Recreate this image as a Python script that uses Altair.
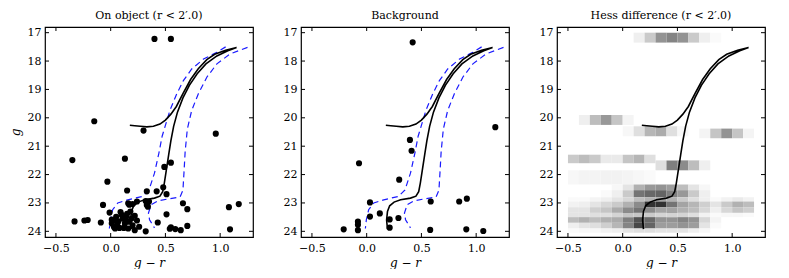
import altair as alt
import pandas as pd

# ---------------- data ----------------
x_ticks = [-0.5, 0.0, 0.5, 1.0]
y_ticks = [17, 18, 19, 20, 21, 22, 23, 24]

obj_gr = [0.40, 0.55, -0.15, 0.30, 0.96, -0.35, 0.13, 0.55, 0.49, -0.03,
          0.15, 0.33, 0.42, 0.48, 0.51, -0.07, 0.16, 0.20, 0.32, 0.33,
          0.34, 0.66, 0.70, 1.08, 1.17, 0.51, 0.43, 0.70, 0.54, 0.59,
          0.64, 1.09, 0.32, 0.26, 0.22, -0.33, -0.24, -0.21, -0.09, 0.55,
          -0.01, 0.01, 0.03, 0.01, 0.05, 0.07, 0.09, 0.11, 0.13, 0.14,
          0.15, 0.17, 0.19, 0.20, 0.22, 0.04, 0.08, 0.12, 0.16, 0.10,
          0.06, 0.18, 0.03, 0.14, 0.24, 0.17, 0.24, 0.35]
obj_g = [17.22, 17.22, 20.12, 20.45, 20.56, 21.49, 21.44, 21.58, 21.73, 22.25,
         22.56, 22.59, 22.59, 22.45, 22.69, 23.07, 23.01, 23.04, 22.93, 23.07,
         23.13, 23.01, 23.22, 23.15, 23.04, 23.40, 23.69, 23.81, 23.91, 23.92,
         23.96, 23.93, 24.00, 23.84, 23.96, 23.65, 23.62, 23.60, 23.69, 23.86,
         23.34, 23.59, 23.85, 23.72, 23.49, 23.65, 23.32, 23.55, 23.72, 23.49,
         23.38, 23.66, 23.55, 23.79, 23.45, 23.90, 23.88, 23.88, 23.90, 23.42,
         23.78, 23.30, 23.62, 23.62, 23.62, 23.06, 22.95, 22.95]

bg_gr = [0.42, 1.175, 0.395, 0.41, -0.07, 0.297, 0.03, 0.585, 0.845, 0.915,
         0.12, 0.03, 0.21, 0.29, -0.08, -0.08, -0.08, -0.21, 0.21, 0.58,
         0.91, 1.065]
bg_g = [17.34, 20.33, 20.78, 21.16, 21.60, 22.18, 22.98, 22.95, 22.95, 22.85,
        23.37, 23.48, 23.58, 23.53, 23.66, 23.77, 23.96, 23.93, 23.87, 23.95,
        23.93, 23.99]

iso_gr = [0.19, 0.182, 0.19, 0.21, 0.25, 0.31, 0.40, 0.45, 0.475, 0.49,
          0.51, 0.53, 0.55, 0.575, 0.61, 0.66, 0.72, 0.79, 0.87, 0.97,
          1.07, 1.15, 1.05, 0.95, 0.878, 0.80, 0.73, 0.66, 0.60, 0.55,
          0.50, 0.45, 0.39, 0.33, 0.27, 0.22, 0.175]
iso_g = [23.92, 23.60, 23.30, 23.10, 22.97, 22.89, 22.83, 22.76, 22.60, 22.30,
         21.80, 21.30, 20.80, 20.30, 19.80, 19.30, 18.85, 18.45, 18.10, 17.82,
         17.64, 17.52, 17.62, 17.76, 17.95, 18.27, 18.65, 19.15, 19.60, 19.87,
         20.08, 20.22, 20.30, 20.32, 20.30, 20.28, 20.26]

left_gr = [1.05, 0.97, 0.848, 0.74, 0.664, 0.603, 0.541, 0.495, 0.47, 0.44,
           0.40, 0.35, 0.29, 0.156, 0.065, 0.018, -0.003, -0.012]
left_g = [17.50, 17.69, 17.93, 18.28, 18.69, 19.16, 19.74, 20.33, 20.65, 21.25,
          21.95, 22.54, 22.77, 22.89, 23.00, 23.24, 23.59, 23.90]

right_gr = [1.25, 1.09, 0.97, 0.878, 0.80, 0.74, 0.70, 0.68, 0.67, 0.66,
            0.634, 0.526, 0.435, 0.37, 0.345, 0.355, 0.40]
right_g = [17.52, 17.75, 18.10, 18.57, 19.16, 19.74, 20.40, 21.20, 21.90, 22.55,
           22.79, 22.86, 22.92, 23.06, 23.36, 23.59, 23.88]

hess_x_edges = [-0.5, -0.4, -0.3, -0.2, -0.1, 0.0, 0.1, 0.2, 0.3, 0.4,
                0.5, 0.6, 0.7, 0.8, 0.9, 1.0, 1.1, 1.2]
hess_row_lo = [17.0, 19.9, 20.3, 20.38, 21.3, 21.5, 21.85, 22.35, 22.55, 22.8,
               22.95, 23.15, 23.35, 23.5, 23.7, 23.9]
hess_row_hi = [17.35, 20.25, 20.65, 20.72, 21.6, 21.85, 22.35, 22.55, 22.8, 22.95,
               23.15, 23.35, 23.5, 23.7, 23.9, 24.05]
hess_vals = [
    [0, 0, 0, 0, 0, 0, 0.06, 0.2, 0.42, 0.48, 0.42, 0.2, 0.06, 0.02, 0, 0, 0],
    [0, 0.06, 0.25, 0.4, 0.22, 0.04, 0, 0, 0, 0, 0, 0, 0, 0, 0, 0, 0],
    [0, 0, 0, 0, 0, 0.03, 0.12, 0.28, 0.32, 0.12, 0.03, 0, 0, 0, 0, 0, 0],
    [0, 0, 0, 0, 0, 0, 0, 0, 0, 0, 0, 0, 0.04, 0.22, 0.42, 0.22, 0.04],
    [0.2, 0.25, 0.2, 0.08, 0.08, 0.22, 0.28, 0.12, 0, 0, 0, 0, 0, 0, 0, 0, 0],
    [0, 0, 0, 0, 0, 0, 0, 0, 0.12, 0.5, 0.45, 0.25, 0.06, 0, 0, 0, 0],
    [0.03, 0.04, 0.04, 0.05, 0.05, 0.04, 0.03, 0.02, 0, 0, 0, 0, 0, 0, 0, 0, 0],
    [0, 0, 0, 0, 0.03, 0.1, 0.3, 0.4, 0.42, 0.38, 0.25, 0.1, 0.03, 0, 0, 0, 0],
    [0, 0, 0, 0.02, 0.06, 0.2, 0.55, 0.6, 0.62, 0.5, 0.4, 0.2, 0.06, 0, 0, 0, 0],
    [0.02, 0.02, 0.04, 0.06, 0.1, 0.15, 0.25, 0.3, 0.35, 0.3, 0.2, 0.12, 0.06, 0.02, 0.05, 0.08, 0.05],
    [0.05, 0.06, 0.1, 0.15, 0.2, 0.3, 0.45, 0.85, 0.85, 0.55, 0.35, 0.28, 0.18, 0.1, 0.2, 0.3, 0.25],
    [0.1, 0.1, 0.18, 0.22, 0.32, 0.45, 0.55, 0.45, 0.35, 0.35, 0.3, 0.25, 0.15, 0.06, 0.15, 0.22, 0.18],
    [0.1, 0.1, 0.12, 0.12, 0.16, 0.22, 0.22, 0.2, 0.16, 0.16, 0.16, 0.12, 0.05, 0.02, 0.03, 0.03, 0.02],
    [0.25, 0.3, 0.25, 0.3, 0.32, 0.5, 0.7, 0.6, 0.42, 0.42, 0.48, 0.42, 0.15, 0.04, 0, 0, 0],
    [0.06, 0.1, 0.12, 0.18, 0.28, 0.48, 0.75, 0.62, 0.38, 0.38, 0.42, 0.38, 0.1, 0.02, 0, 0, 0],
    [0.02, 0.03, 0.03, 0.05, 0.06, 0.1, 0.12, 0.12, 0.1, 0.1, 0.1, 0.06, 0.03, 0, 0, 0, 0],
]

titles = ["On object (r < 2\u2032.0)", "Background", "Hess difference (r < 2\u2032.0)"]

# ---------------- tables ----------------
iso_df = pd.DataFrame({"gr": iso_gr, "g": iso_g, "o": list(range(len(iso_gr)))})
dash_df = pd.concat([
    pd.DataFrame({"gr": left_gr, "g": left_g, "b": "left", "o": list(range(len(left_gr)))}),
    pd.DataFrame({"gr": right_gr, "g": right_g, "b": "right", "o": list(range(len(right_gr)))}),
])
obj_df = pd.DataFrame({"gr": obj_gr, "g": obj_g})
bg_df = pd.DataFrame({"gr": bg_gr, "g": bg_g})
cells = []
for lo, hi, vals in zip(hess_row_lo, hess_row_hi, hess_vals):
    for j, v in enumerate(vals):
        if v > 0:
            cells.append({"x1": hess_x_edges[j], "x2": hess_x_edges[j + 1],
                          "y1": lo, "y2": hi, "v": v})
hess_df = pd.DataFrame(cells)
xt_df = pd.DataFrame({"t": x_ticks})
yt_df = pd.DataFrame({"t": y_ticks})

W, H = 208, 210
FONT = "DejaVu Serif"
xs = alt.Scale(domain=[-0.6, 1.3], nice=False, zero=False)
ys = alt.Scale(domain=[16.8, 24.2], nice=False, zero=False, reverse=True)


def xax():
    return alt.Axis(values=x_ticks, format=".1f", title="g \u2212 r", tickSize=0,
                    domain=False, grid=False, labelPadding=5, titleFontStyle="italic",
                    titlePadding=4, labelFont=FONT, labelFontSize=11, titleFont=FONT,
                    titleFontSize=12, titleFontWeight="normal", labelColor="black",
                    titleColor="black")


def yax(show_title):
    kw = dict(values=y_ticks, format="d", tickSize=0, domain=False, grid=False,
              labelPadding=4, labelFont=FONT, labelFontSize=11, labelColor="black")
    if show_title:
        return alt.Axis(title="g", titleFontStyle="italic", titlePadding=5, titleFont=FONT,
                        titleFontSize=12, titleFontWeight="normal", titleColor="black", **kw)
    return alt.Axis(title=None, **kw)


def panel(i):
    yt = i == 0
    X = lambda f: alt.X(f, type="quantitative", scale=xs, axis=xax())
    Y = lambda f: alt.Y(f, type="quantitative", scale=ys, axis=yax(yt))
    layers = []
    if i == 2:
        layers.append(alt.Chart(hess_df).mark_rect(clip=True).encode(
            x=X("x1"), x2="x2", y=Y("y1"), y2="y2",
            color=alt.Color("v:Q", scale=alt.Scale(domain=[0, 1.0], range=["#ffffff", "#151515"]),
                            legend=None)))
    else:
        layers.append(alt.Chart(dash_df).mark_line(color="#1a1aff", strokeDash=[6, 4],
                                                    strokeWidth=1.2, clip=True).encode(
            x=X("gr"), y=Y("g"), detail="b:N", order="o:Q"))
    layers.append(alt.Chart(iso_df).mark_line(color="black", strokeWidth=1.6, clip=True).encode(
        x=X("gr"), y=Y("g"), order="o:Q"))
    if i < 2:
        pts = obj_df if i == 0 else bg_df
        layers.append(alt.Chart(pts).mark_circle(color="black", opacity=1, size=38).encode(
            x=X("gr"), y=Y("g")))
    # inward ticks on all four sides
    layers.append(alt.Chart(yt_df).mark_rule(color="black", strokeWidth=1).encode(
        y=Y("t"), x=alt.value(0), x2=alt.value(4)))
    layers.append(alt.Chart(yt_df).mark_rule(color="black", strokeWidth=1).encode(
        y=Y("t"), x=alt.value(W - 4), x2=alt.value(W)))
    layers.append(alt.Chart(xt_df).mark_rule(color="black", strokeWidth=1).encode(
        x=X("t"), y=alt.value(H - 4), y2=alt.value(H)))
    layers.append(alt.Chart(xt_df).mark_rule(color="black", strokeWidth=1).encode(
        x=X("t"), y=alt.value(0), y2=alt.value(4)))
    return alt.layer(*layers).properties(
        width=W, height=H,
        title=alt.TitleParams(titles[i], font=FONT, fontSize=11, fontWeight="normal",
                              offset=6, color="black"))


chart = alt.hconcat(panel(0), panel(1), panel(2), spacing=27).configure_view(
    stroke="black", strokeWidth=1.2
).properties(padding={"left": 0, "top": 0, "right": 0, "bottom": 0})

chart.save("out.html", embed_options={"renderer": "svg", "actions": False})
